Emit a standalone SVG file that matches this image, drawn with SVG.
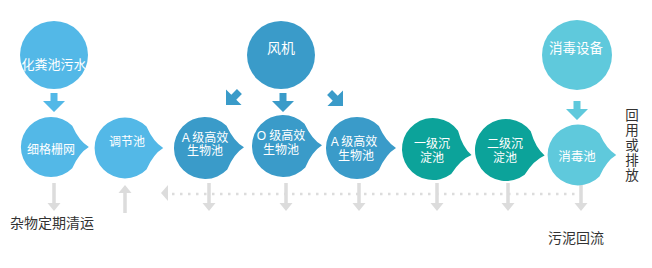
<svg xmlns="http://www.w3.org/2000/svg" xmlns:xlink="http://www.w3.org/1999/xlink" width="652" height="268" viewBox="0 0 652 268">
<style>
.t{font-family:"Noto Sans CJK SC","Liberation Sans",sans-serif;fill:#fff;text-anchor:middle;dominant-baseline:central}
.t2{font-family:"Liberation Sans","Noto Sans CJK SC",sans-serif;font-size:12px}
.lbl{font-family:"Noto Sans CJK SC","Liberation Sans",sans-serif;fill:#333;font-size:14px;dominant-baseline:central}
.c1{fill:#53b8e7}
.c2{fill:#3a9bc9}
.c3{fill:#0ca39a}
.c4{fill:#5fc9dc}
.g{fill:#dcdcdc}
</style>
<defs>
<path id="drop" d="M21.9,-21.9 A31 31 0 1 0 21.9,21.9 Q29,6 39,0 Q29,-6 21.9,-21.9 Z"/>
<path id="arr" d="M-3.5,-19 L3.5,-19 L3.5,-11 L11,-11 L0,0 L-11,-11 L-3.5,-11 Z"/>
<path id="gd" d="M-1.75,0 L1.75,0 L1.75,20 L6.5,20 L0,28 L-6.5,20 L-1.75,20 Z"/>
</defs>

<g id="connectors">
  <use xlink:href="#arr" href="#arr" class="c1" transform="translate(54,112)"/>
  <use xlink:href="#arr" href="#arr" class="c2" transform="translate(283,112)"/>
  <use xlink:href="#arr" href="#arr" class="c2" transform="translate(226,105) rotate(45)"/>
  <use xlink:href="#arr" href="#arr" class="c2" transform="translate(343,106) rotate(-45)"/>
  <use xlink:href="#arr" href="#arr" class="c4" transform="translate(577,120)"/>
  <line x1="172" y1="194" x2="581" y2="194" stroke="#dcdcdc" stroke-width="2.5" stroke-dasharray="2.5 5.5"/>
  <polygon class="g" points="161,193 168,185 168,201"/>
  <use xlink:href="#gd" href="#gd" class="g" transform="translate(54,183)"/>
  <use xlink:href="#gd" href="#gd" class="g" transform="translate(125,213) scale(1,-1)"/>
  <use xlink:href="#gd" href="#gd" class="g" transform="translate(209,183)"/>
  <use xlink:href="#gd" href="#gd" class="g" transform="translate(286,183)"/>
  <use xlink:href="#gd" href="#gd" class="g" transform="translate(359,183)"/>
  <use xlink:href="#gd" href="#gd" class="g" transform="translate(437,183)"/>
  <use xlink:href="#gd" href="#gd" class="g" transform="translate(508,183)"/>
  <use xlink:href="#gd" href="#gd" class="g" transform="translate(581,183)"/>
</g>

<g id="n-huafen">
  <circle class="c1" cx="54" cy="55" r="34"/>
  <text class="t" x="54" y="63" font-size="13">化粪池污水</text>
</g>
<g id="n-fengji">
  <circle class="c2" cx="281" cy="55" r="34"/>
  <text class="t" x="281" y="47" font-size="14">风机</text>
</g>
<g id="n-xiaodusb">
  <circle class="c4" cx="577" cy="55" r="35"/>
  <text class="t" x="576" y="47" font-size="13.5">消毒设备</text>
</g>

<g id="n-xigeshan">
  <use xlink:href="#drop" href="#drop" class="c1" transform="translate(51,147) scale(0.97)"/>
  <text class="t" x="51" y="148" font-size="12">细格栅网</text>
</g>
<g id="n-tiaojie">
  <use xlink:href="#drop" href="#drop" class="c1" transform="translate(125,148) scale(0.98)"/>
  <text class="t" x="127" y="140" font-size="12">调节池</text>
</g>
<g id="n-a1">
  <use xlink:href="#drop" href="#drop" class="c2" transform="translate(205,148) rotate(-1)"/>
  <text class="t t2" x="205" y="137.75">A 级高效</text>
  <text class="t t2" x="205" y="151.25">生物池</text>
</g>
<g id="n-o">
  <use xlink:href="#drop" href="#drop" class="c2" transform="translate(283,146) rotate(-1)"/>
  <text class="t t2" x="281" y="136">O 级高效</text>
  <text class="t t2" x="281" y="149.5">生物池</text>
</g>
<g id="n-a2">
  <use xlink:href="#drop" href="#drop" class="c2" transform="translate(357,148)"/>
  <text class="t t2" x="354" y="142">A 级高效</text>
  <text class="t t2" x="356" y="155.5">生物池</text>
</g>
<g id="n-yiji">
  <use xlink:href="#drop" href="#drop" class="c3" transform="translate(433,149) rotate(9)"/>
  <text class="t t2" x="432" y="144">一级沉</text>
  <text class="t t2" x="432" y="157.5">淀池</text>
</g>
<g id="n-erji">
  <use xlink:href="#drop" href="#drop" class="c3" transform="translate(506,150) rotate(8)"/>
  <text class="t t2" x="505" y="144">二级沉</text>
  <text class="t t2" x="505" y="157.5">淀池</text>
</g>
<g id="n-xiaoduchi">
  <use xlink:href="#drop" href="#drop" class="c4" transform="translate(578,155) scale(0.98)"/>
  <text class="t" x="577" y="155" font-size="12.5">消毒池</text>
</g>

<g id="labels">
  <text class="lbl" x="10" y="222">杂物定期清运</text>
  <text class="lbl" x="548" y="237">污泥回流</text>
  <text font-family="Noto Sans CJK SC, Liberation Sans, sans-serif" fill="#333" font-size="13.5" writing-mode="vertical-rl" letter-spacing="1.5" x="632" y="108">回用或排放</text>
</g>
</svg>
